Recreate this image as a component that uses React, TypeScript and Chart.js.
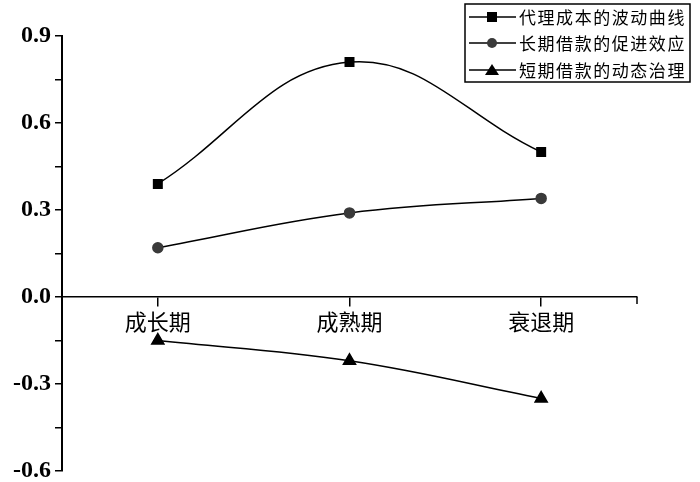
import React, { useEffect, useRef } from "react";
import { Chart, registerables } from "chart.js";

Chart.register(...registerables);

const categories = ["成长期", "成熟期", "衰退期"];
const seriesNames = ["代理成本的波动曲线", "长期借款的促进效应", "短期借款的动态治理"];
const agencyCost = [0.39, 0.81, 0.5];
const longTermLoan = [0.17, 0.29, 0.34];
const shortTermLoan = [-0.15, -0.22, -0.35];
const yMin = -0.6;
const yMax = 0.9;
const yMinorStep = 0.15;
const yMajorStep = 0.3;

function drawMarker(ctx: CanvasRenderingContext2D, style: string, x: number, y: number, color: string) {
  ctx.save();
  ctx.fillStyle = color;
  ctx.strokeStyle = color;
  ctx.beginPath();
  if (style === "rect") {
    ctx.rect(x - 5, y - 5, 10, 10);
  } else if (style === "circle") {
    ctx.arc(x, y, 5, 0, Math.PI * 2);
  } else {
    ctx.moveTo(x, y - 6);
    ctx.lineTo(x + 7, y + 5);
    ctx.lineTo(x - 7, y + 5);
    ctx.closePath();
  }
  ctx.fill();
  ctx.restore();
}

const legendPlugin = {
  id: "boxLegend",
  afterDraw(chart: any) {
    const ctx: CanvasRenderingContext2D = chart.ctx;
    const left = 465, top = 4, right = 690, bottom = 82;
    ctx.save();
    ctx.fillStyle = "#fff";
    ctx.fillRect(left, top, right - left, bottom - top);
    ctx.strokeStyle = "#000";
    ctx.lineWidth = 1.5;
    ctx.strokeRect(left, top, right - left, bottom - top);
    const rows = [17, 43, 70];
    chart.data.datasets.forEach((ds: any, i: number) => {
      const y = rows[i];
      ctx.beginPath();
      ctx.strokeStyle = "#000";
      ctx.lineWidth = 1.5;
      ctx.moveTo(469, y);
      ctx.lineTo(516, y);
      ctx.stroke();
      drawMarker(ctx, ds.pointStyle, 492, y, ds.pointBackgroundColor);
      ctx.fillStyle = "#000";
      ctx.font = '17px "Noto Sans CJK SC"';
      ctx.textBaseline = "middle";
      ctx.textAlign = "center";
      const chars = Array.from(ds.label as string);
      chars.forEach((c, j) => {
        ctx.fillText(c, 527.5 + j * 18.55, y + 1);
      });
    });
    ctx.restore();
  },
};

const endTickPlugin = {
  id: "endTick",
  afterDraw(chart: any) {
    const ctx: CanvasRenderingContext2D = chart.ctx;
    const y0 = chart.scales.y.getPixelForValue(0);
    const xr = chart.chartArea.right;
    ctx.save();
    ctx.strokeStyle = "#000";
    ctx.lineWidth = 1.5;
    ctx.beginPath();
    ctx.moveTo(xr, y0);
    ctx.lineTo(xr, y0 + 7);
    ctx.stroke();
    ctx.restore();
  },
};

export default function App() {
  const ref = useRef<HTMLCanvasElement>(null);
  useEffect(() => {
    document.body.style.margin = "0";
    const ctx = ref.current!;
    const mk = (label: string, data: number[], style: string, color: string, r: number) => ({
      label,
      data,
      pointStyle: style,
      pointRadius: r,
      pointHoverRadius: r,
      pointBackgroundColor: color,
      pointBorderColor: color,
      borderColor: "#000",
      backgroundColor: color,
      borderWidth: 1.5,
      tension: 0.4,
      fill: false,
    });
    const chart = new Chart(ctx, {
      type: "line",
      data: {
        labels: categories,
        datasets: [
          mk(seriesNames[0], agencyCost, "rect", "#000", 6),
          mk(seriesNames[1], longTermLoan, "circle", "#3a3a3a", 5),
          mk(seriesNames[2], shortTermLoan, "triangle", "#000", 7),
        ],
      },
      options: {
        animation: false,
        responsive: false,
        maintainAspectRatio: false,
        layout: { padding: { top: 36, bottom: 11, right: 63, left: 0 } },
        plugins: { legend: { display: false }, tooltip: { enabled: false } },
        scales: {
          x: {
            type: "category",
            position: { y: 0 } as any,
            offset: true,
            grid: { display: true, drawOnChartArea: false, offset: false, color: "#000", lineWidth: 1.5, tickLength: 9 },
            border: { display: true, color: "#000", width: 1.5 },
            ticks: { color: "#000", font: { family: '"Noto Sans CJK SC"', size: 22 }, padding: 2, maxRotation: 0 },
          },
          y: {
            min: yMin,
            max: yMax,
            afterFit(s: any) {
              s.width = 62;
              s.paddingTop = 0;
              s.paddingBottom = 0;
            },
            grid: { display: true, drawOnChartArea: false, color: "#000", lineWidth: 1.5, tickLength: 7 },
            border: { display: true, color: "#000", width: 2 },
            ticks: {
              stepSize: yMinorStep,
              autoSkip: false,
              color: "#000",
              padding: 4,
              font: { family: '"Liberation Serif"', size: 24, weight: "bold" },
              callback: (v: any) => {
                const n = Number(v);
                const k = Math.round(n / yMajorStep);
                return Math.abs(k * yMajorStep - n) < 1e-6 ? n.toFixed(1) : "";
              },
            },
          },
        },
      },
      plugins: [legendPlugin, endTickPlugin],
    });
    return () => chart.destroy();
  }, []);
  return (
    <div style={{ width: 700, height: 482 }}>
      <canvas ref={ref} width={700} height={482} style={{ display: "block" }} />
    </div>
  );
}
